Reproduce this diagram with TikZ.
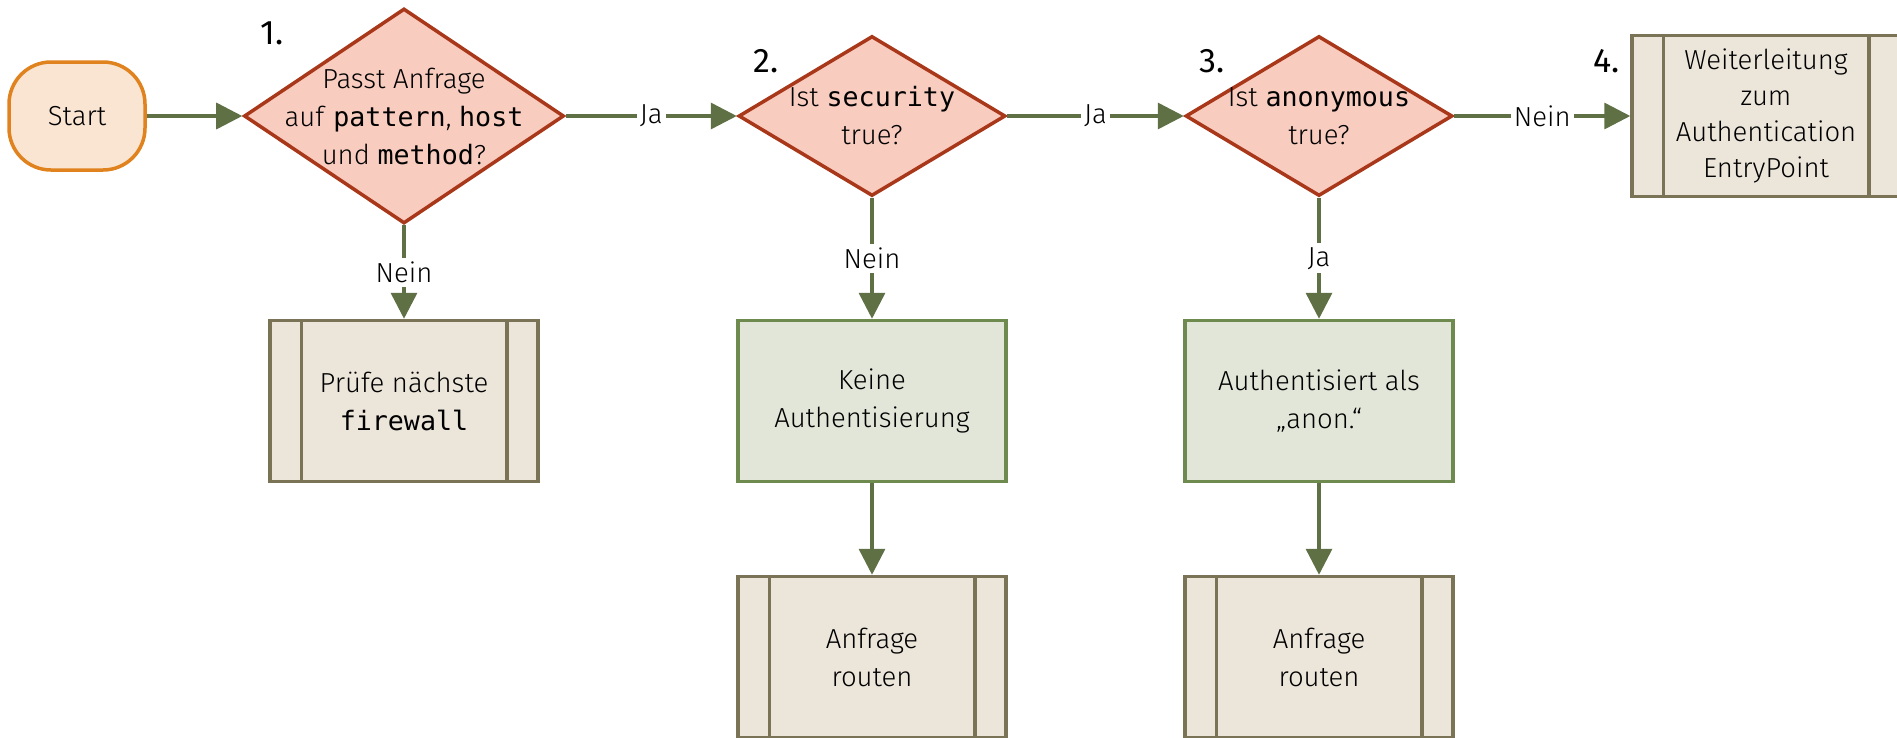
\documentclass[tikz,border=0pt]{standalone}
\usepackage{fontspec}
\setmainfont{Fira Sans}[UprightFont=* Light]
\setmonofont{DejaVu Sans Mono}[Scale=0.97]
\newfontfamily\stepnumfont{Fira Sans}
\usetikzlibrary{shapes.geometric,arrows.meta}

\definecolor{flowcol}{HTML}{5E7044}
\definecolor{decfill}{HTML}{F8CCBF}
\definecolor{decline}{HTML}{A9381B}
\definecolor{startfill}{HTML}{FAE5D2}
\definecolor{startline}{HTML}{E0821E}
\definecolor{procfill}{HTML}{ECE5DA}
\definecolor{procline}{HTML}{7B7355}
\definecolor{actfill}{HTML}{E2E6D8}
\definecolor{actline}{HTML}{6E8A4E}

\begin{document}
\begin{tikzpicture}[x=1pt,y=-1pt,
  flowtext/.style={font=\fontsize{27.5}{38}\selectfont, align=center, inner sep=0pt, text=black},
  terminal/.style={rectangle, rounded corners=42pt, draw=startline, fill=startfill,
    line width=3.5pt, minimum width=136pt, minimum height=108pt, flowtext},
  decision/.style={diamond, draw=decline, fill=decfill, line width=3.5pt, inner sep=0pt},
  process/.style={rectangle, draw=procline, fill=procfill, line width=3.5pt,
    minimum width=268pt, minimum height=161pt, flowtext},
  action/.style={rectangle, draw=actline, fill=actfill, line width=3.5pt,
    minimum width=268pt, minimum height=161pt, flowtext},
  flow/.style={draw=flowcol, line width=3.5pt, -{Triangle[length=26pt,width=26pt]}},
  edgelabel/.style={flowtext, fill=white, inner xsep=3pt, inner ysep=4pt},
  stepnum/.style={font=\stepnumfont\fontsize{34}{40}\selectfont, inner sep=0pt},
  sidebar/.style={draw=procline, line width=3.5pt}
]
\useasboundingbox (0,0) rectangle (1897,737);

% start
\node[terminal] (start) at (77,116) {Start};

% decisions
\node[decision, minimum width=320pt, minimum height=215pt] (d1) at (404,116) {};
\node[flowtext] (d1t) at (d1) {Passt Anfrage\\auf \texttt{pattern}, \texttt{host}\\und \texttt{method}?};
\node[decision, minimum width=267pt, minimum height=160pt] (d2) at (872,116) {};
\node[flowtext] (d2t) at (d2) {Ist \texttt{security}\\true?};
\node[decision, minimum width=267pt, minimum height=160pt] (d3) at (1319,116) {};
\node[flowtext] (d3t) at (d3) {Ist \texttt{anonymous}\\true?};

% step numbers
\node[stepnum] (n1) at (272,33) {1.};
\node[stepnum] (n2) at (766,61) {2.};
\node[stepnum] (n3) at (1212,61) {3.};
\node[stepnum] (n4) at (1607,61) {4.};

% process boxes
\node[process] (b1) at (404,401) {Prüfe nächste\\\texttt{firewall}};
\node[process, font=\fontsize{27.5}{36}\selectfont] (b4) at (1766,116) {Weiterleitung\\zum\\Authentication\\EntryPoint};
\node[action] (b2) at (872,401) {Keine\\Authentisierung};
\node[action] (b3) at (1319,401) {Authentisiert als\\„anon.“};
\node[process] (r2) at (872,657) {Anfrage\\routen};
\node[process] (r3) at (1319,657) {Anfrage\\routen};

% side bars of the predefined-process boxes
\foreach \b in {b1,b4,r2,r3}{
  \draw[sidebar] ([xshift=33pt]\b.north west) -- ([xshift=33pt]\b.south west);
  \draw[sidebar] ([xshift=-33pt]\b.north east) -- ([xshift=-33pt]\b.south east);
}

% connectors
\draw[flow] (start) -- (d1);
\draw[flow] (d1) -- node[edgelabel] {Ja} (d2);
\draw[flow] (d2) -- node[edgelabel] {Ja} (d3);
\draw[flow] (d3) -- node[edgelabel] {Nein} (b4);
\draw[flow] (d1.south) -- node[edgelabel] {Nein} (b1.north);
\draw[flow] (d2.south) -- node[edgelabel] {Nein} (b2.north);
\draw[flow] (d3.south) -- node[edgelabel] {Ja} (b3.north);
\draw[flow] (b2) -- (r2);
\draw[flow] (b3) -- (r3);
\end{tikzpicture}
\end{document}
